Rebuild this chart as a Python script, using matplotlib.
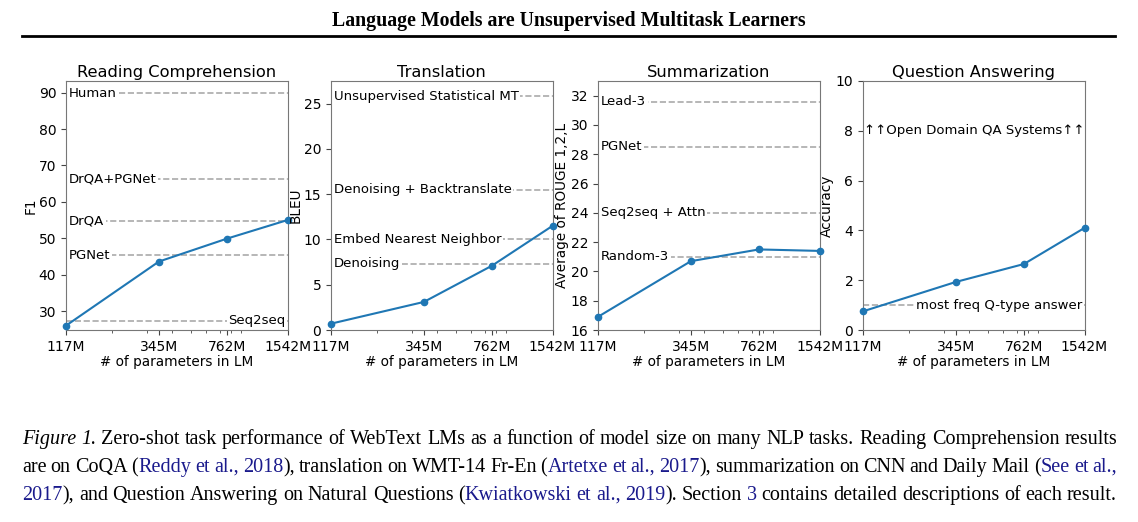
import matplotlib
matplotlib.use('Agg')
import matplotlib.pyplot as plt
from matplotlib.lines import Line2D
from matplotlib.ticker import NullFormatter

params = [117, 345, 762, 1542]
param_labels = ['117M', '345M', '762M', '1542M']

rc_f1 = [26.0, 43.6, 49.9, 55.0]
rc_names = ['Human', 'DrQA+PGNet', 'DrQA', 'PGNet', 'Seq2seq']
rc_values = [89.8, 66.2, 54.8, 45.4, 27.3]

mt_bleu = [0.7, 3.1, 7.1, 11.5]
mt_names = ['Unsupervised Statistical MT', 'Denoising + Backtranslate', 'Embed Nearest Neighbor', 'Denoising']
mt_values = [25.8, 15.5, 10.0, 7.3]

sum_rouge = [16.9, 20.7, 21.5, 21.4]
sum_names = ['Lead-3', 'PGNet', 'Seq2seq + Attn', 'Random-3']
sum_values = [31.6, 28.5, 24.0, 21.0]

qa_acc = [0.75, 1.93, 2.65, 4.1]
qa_names = ['most freq Q-type answer']
qa_values = [1.0]

W, H = 1138, 522
fig = plt.figure(figsize = (W / 100, H / 100), dpi = 100)

serif = 'Liberation Serif'
blue = '#1a1a8c'

# header
fig.text(569 / W, 1 - 21 / H, 'Language Models are Unsupervised Multitask Learners', ha = 'center', va = 'center',
         family = serif, fontweight = 'bold', fontsize = 14.3)
fig.add_artist(Line2D([22 / W, 1115 / W], [1 - 36 / H, 1 - 36 / H], color = 'black', lw = 2))

panels = [
    ('Reading Comprehension', 'F1', rc_f1, rc_names, rc_values, (24.8, 93.2), [30, 40, 50, 60, 70, 80, 90], ['l', 'l', 'l', 'l', 'r']),
    ('Translation', 'BLEU', mt_bleu, mt_names, mt_values, (0, 27.5), [0, 5, 10, 15, 20, 25], ['l', 'l', 'l', 'l']),
    ('Summarization', 'Average of ROUGE 1,2,L', sum_rouge, sum_names, sum_values, (16, 33), list(range(16, 33, 2)), ['l', 'l', 'l', 'l']),
    ('Question Answering', 'Accuracy', qa_acc, qa_names, qa_values, (0, 10), [0, 2, 4, 6, 8, 10], ['r']),
]
lefts = [66, 331, 598, 863]

for left, (title, ylabel, ys, names, vals, ylim, yticks, sides) in zip(lefts, panels):
    ax = fig.add_axes([left / W, 192 / H, 221.5 / W, 249 / H])
    ax.set_xscale('log')
    for name, val, side in zip(names, vals, sides):
        ax.axhline(val, color = '#aaaaaa', ls = '--', lw = 1.2, zorder = 1)
        if side == 'l':
            ax.text(121, val, name, ha = 'left', va = 'center', fontsize = 9.5, zorder = 2,
                    bbox = dict(facecolor = 'white', edgecolor = 'none', pad = 1.2))
        else:
            ax.text(1510, val, name, ha = 'right', va = 'center', fontsize = 9.5, zorder = 2,
                    bbox = dict(facecolor = 'white', edgecolor = 'none', pad = 1.2))
    if title == 'Question Answering':
        ax.text(118, 8, '↑↑Open Domain QA Systems↑↑', ha = 'left', va = 'center', fontsize = 9.5)
    ax.plot(params, ys, '-o', color = '#1f77b4', lw = 1.5, ms = 4.5, zorder = 4, clip_on = False)
    ax.set_xlim(117, 1542)
    ax.set_ylim(*ylim)
    ax.set_xticks(params)
    ax.set_xticklabels(param_labels)
    ax.xaxis.set_minor_formatter(NullFormatter())
    ax.set_yticks(yticks)
    ax.tick_params(labelsize = 10, color = '#444444')
    ax.tick_params(which = 'minor', color = '#444444')
    for sp in ax.spines.values():
        sp.set_color('#777777')
        sp.set_linewidth(0.8)
    ax.set_title(title, fontsize = 11.7, pad = 3)
    ax.set_xlabel('# of parameters in LM', fontsize = 9.8, labelpad = 1)
    ax.set_ylabel(ylabel, fontsize = 9.8, labelpad = 1)

# caption, justified by hand
caption = [
    [('Figure 1.', 'it'), (' Zero-shot task performance of WebText LMs as a function of model size on many NLP tasks. Reading Comprehension results', 'n')],
    [('are on CoQA (', 'n'), ('Reddy et al., 2018', 'b'), ('), translation on WMT-14 Fr-En (', 'n'), ('Artetxe et al., 2017', 'b'),
     ('), summarization on CNN and Daily Mail (', 'n'), ('See et al.,', 'b')],
    [('2017', 'b'), ('), and Question Answering on Natural Questions (', 'n'), ('Kwiatkowski et al., 2019', 'b'), ('). Section ', 'n'),
     ('3', 'b'), (' contains detailed descriptions of each result.', 'n')],
]
line_y = [438, 466, 494]
x0, x1 = 22, 1117
renderer = fig.canvas.get_renderer()


def style_kw(st, size):
    kw = dict(family = serif, fontsize = size, va = 'baseline', ha = 'left')
    if st == 'it':
        kw['fontstyle'] = 'italic'
    if st == 'b':
        kw['color'] = blue
    return kw


def split_words(segs):
    words = []
    cur = []
    for txt, st in segs:
        parts = txt.split(' ')
        for i, p in enumerate(parts):
            if i > 0 and cur:
                words.append(cur)
                cur = []
            if p:
                cur.append((p, st))
    if cur:
        words.append(cur)
    return words


# pick caption size so the first line fits with normal spaces
probe = fig.text(0, 0, ' '.join(''.join(f for f, s in w) for w in split_words(caption[0])), family = serif, fontsize = 10)
cap_size = 10 * (x1 - x0) / probe.get_window_extent(renderer).width
probe.remove()

for segs, yy in zip(caption, line_y):
    words = split_words(segs)
    arts = []
    total = 0
    for w in words:
        wa = []
        for frag, st in w:
            t = fig.text(0, 1 - (yy + 6) / H, frag, **style_kw(st, cap_size))
            wd = t.get_window_extent(renderer).width
            wa.append((t, wd))
            total += wd
        arts.append(wa)
    gap = (x1 - x0 - total) / (len(words) - 1)
    x = x0
    for wa in arts:
        for t, wd in wa:
            t.set_x(x / W)
            x += wd
        x += gap

fig.savefig('out.png', dpi = 100)
